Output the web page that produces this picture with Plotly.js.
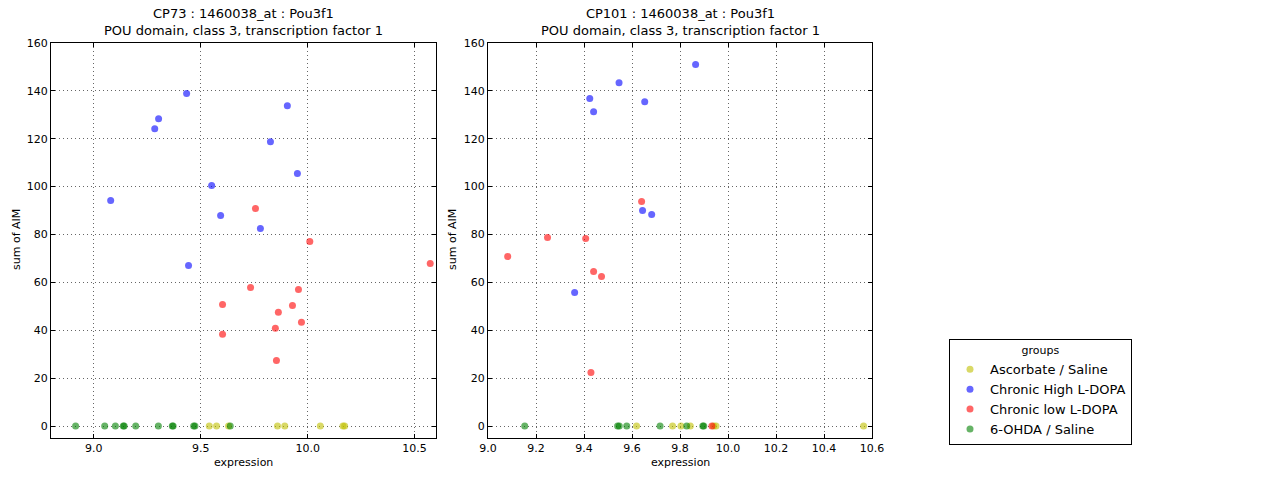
<!DOCTYPE html>
<html>
<head>
<meta charset="utf-8">
<script src="https://cdn.plot.ly/plotly-3.0.1.min.js"></script>
<style>
  html, body { margin: 0; padding: 0; background: #fff; }
  #chart { width: 1280px; height: 480px; }
</style>
</head>
<body>
<div id="chart"></div>
<script>
/* ── Group labels and colours ─────────────────────────────── */
const GROUPS = ['Ascorbate / Saline', 'Chronic High L-DOPA', 'Chronic low L-DOPA', '6-OHDA / Saline'];
const COLORS = ['#bfbf00', '#0000ff', '#ff0000', '#008000'];

/* ── CP73 panel (left) ───────────────────────────────────── */
const cp73AscX  = [9.540, 9.574, 9.630, 9.859, 9.893, 10.059, 10.165, 10.173];
const cp73AscY  = [0, 0, 0, 0, 0, 0, 0, 0];
const cp73HighX = [9.434, 9.905, 9.303, 9.285, 9.826, 9.952, 9.551, 9.079, 9.593, 9.779, 9.443];
const cp73HighY = [138.9, 133.8, 128.4, 124.2, 118.8, 105.5, 100.5, 94.2, 87.9, 82.5, 67.1];
const cp73LowX  = [9.756, 10.010, 10.573, 9.733, 9.957, 9.602, 9.929, 9.863, 9.971, 9.849, 9.602, 9.854];
const cp73LowY  = [90.9, 77.1, 67.9, 57.9, 57.0, 50.8, 50.4, 47.5, 43.3, 40.8, 38.3, 27.4];
const cp73OhdaX = [8.915, 9.051, 9.101, 9.138, 9.142, 9.196, 9.302, 9.367, 9.371, 9.467, 9.473, 9.638];
const cp73OhdaY = [0, 0, 0, 0, 0, 0, 0, 0, 0, 0, 0, 0];

/* ── CP101 panel (right) ─────────────────────────────────── */
const cp101AscX  = [9.619, 9.769, 9.804, 9.843, 9.940, 9.950, 10.565];
const cp101AscY  = [0, 0, 0, 0, 0, 0, 0];
const cp101HighX = [9.865, 9.546, 9.424, 9.653, 9.440, 9.644, 9.682, 9.361];
const cp101HighY = [151.0, 143.4, 136.8, 135.5, 131.3, 90.0, 88.4, 55.8];
const cp101LowX  = [9.640, 9.248, 9.407, 9.082, 9.440, 9.473, 9.429, 9.933];
const cp101LowY  = [93.8, 78.8, 78.3, 70.8, 64.6, 62.5, 22.4, 0];
const cp101OhdaX = [9.153, 9.540, 9.547, 9.578, 9.717, 9.828, 9.895, 9.899];
const cp101OhdaY = [0, 0, 0, 0, 0, 0, 0, 0];

const LEFT_TITLE  = 'CP73 : 1460038_at : Pou3f1<br>POU domain, class 3, transcription factor 1';
const RIGHT_TITLE = 'CP101 : 1460038_at : Pou3f1<br>POU domain, class 3, transcription factor 1';
const X_LABEL = 'expression';
const Y_LABEL = 'sum of AIM';

const leftSets  = [[cp73AscX, cp73AscY], [cp73HighX, cp73HighY], [cp73LowX, cp73LowY], [cp73OhdaX, cp73OhdaY]];
const rightSets = [[cp101AscX, cp101AscY], [cp101HighX, cp101HighY], [cp101LowX, cp101LowY], [cp101OhdaX, cp101OhdaY]];

function groupTraces(sets, xa, ya, showLegend) {
  return sets.map((s, i) => ({
    x: s[0], y: s[1],
    xaxis: xa, yaxis: ya,
    type: 'scatter', mode: 'markers',
    name: GROUPS[i],
    legendgroup: GROUPS[i],
    showlegend: showLegend,
    marker: { color: COLORS[i], size: 7, opacity: 0.6, line: { width: 0 } },
    hoverinfo: 'x+y+name'
  }));
}

const traces = groupTraces(leftSets, 'x', 'y', true).concat(groupTraces(rightSets, 'x2', 'y2', false));

/* ── Shared axis styling (matplotlib classic look) ───────── */
const axisBase = {
  showline: true, linecolor: '#000', linewidth: 1, mirror: 'ticks',
  ticks: 'inside', ticklen: 4, tickcolor: '#000',
  showgrid: true, gridcolor: '#666', griddash: '1px,3px', gridwidth: 1,
  zeroline: false,
  tickfont: { size: 11, color: '#000' }
};
const yTicks = { tickvals: [0, 20, 40, 60, 80, 100, 120, 140, 160], range: [-5, 160] };

const F = (px) => px / 1280;
const G = (py) => 1 - py / 480;

const label = (text, x, y, angle) => ({
  text, xref: 'paper', yref: 'paper', x, y,
  xanchor: 'center', yanchor: 'middle', showarrow: false,
  textangle: angle, font: { size: 11 }
});

const layout = {
  width: 1280, height: 480,
  margin: { l: 0, r: 0, t: 0, b: 0 },
  paper_bgcolor: '#fff', plot_bgcolor: '#fff',
  font: { family: 'DejaVu Sans, sans-serif', size: 11, color: '#000' },
  xaxis: Object.assign({}, axisBase, {
    domain: [F(51), F(436)], anchor: 'y', range: [8.8, 10.6],
    tickvals: [9.0, 9.5, 10.0, 10.5], tickformat: '.1f'
  }),
  yaxis: Object.assign({}, axisBase, yTicks, {
    domain: [G(438), G(43)], anchor: 'x'
  }),
  xaxis2: Object.assign({}, axisBase, {
    domain: [F(488), F(872)], anchor: 'y2', range: [9.0, 10.6],
    tickvals: [9.0, 9.2, 9.4, 9.6, 9.8, 10.0, 10.2, 10.4, 10.6], tickformat: '.1f'
  }),
  yaxis2: Object.assign({}, axisBase, yTicks, {
    domain: [G(438), G(43)], anchor: 'x2'
  }),
  annotations: [
    { text: LEFT_TITLE, xref: 'paper', yref: 'paper', x: F(243.5), y: G(40),
      xanchor: 'center', yanchor: 'bottom', showarrow: false, font: { size: 13 } },
    { text: RIGHT_TITLE, xref: 'paper', yref: 'paper', x: F(680), y: G(40),
      xanchor: 'center', yanchor: 'bottom', showarrow: false, font: { size: 13 } },
    label(X_LABEL, F(243.5), G(462), 0),
    label(X_LABEL, F(680), G(462), 0),
    label(Y_LABEL, F(16), G(240), -90),
    label(Y_LABEL, F(452), G(240), -90)
  ],
  legend: {
    x: F(949), y: G(339), xanchor: 'left', yanchor: 'top',
    bordercolor: '#000', borderwidth: 1, bgcolor: '#fff',
    font: { size: 13 },
    title: { text: 'groups', side: 'top center', font: { size: 11 } },
    tracegroupgap: 0, itemwidth: 30
  },
  showlegend: true
};

Plotly.newPlot('chart', traces, layout, { displayModeBar: false, staticPlot: true });
</script>
</body>
</html>
